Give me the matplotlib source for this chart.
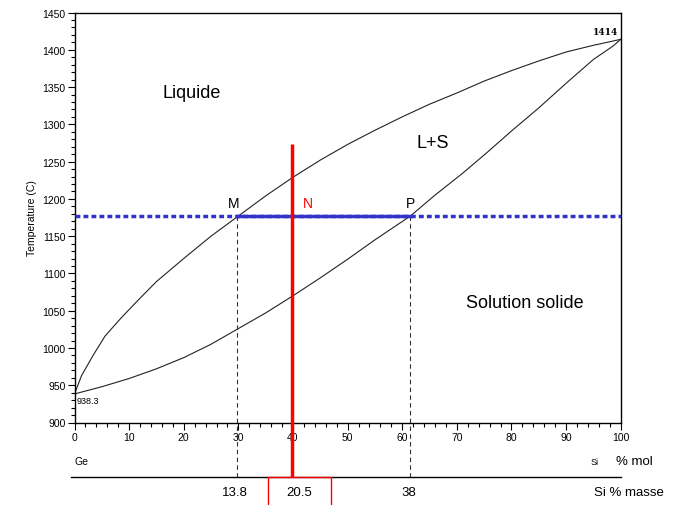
import numpy as np
import matplotlib
matplotlib.use("Agg")
import matplotlib.pyplot as plt
from matplotlib.ticker import MultipleLocator

plt.rcParams["font.family"] = ["Liberation Sans", "DejaVu Sans"]

# Ge-Si phase diagram
liq_x = [0, 1.3, 3.4, 5.6, 8.5, 11.5, 15, 20, 25, 30, 35, 40, 45, 50, 55, 60,
         65, 70, 75, 80, 85, 90, 95, 100]
liq_t = [938.3, 963, 990, 1016, 1040, 1063, 1089, 1120, 1150, 1177, 1204, 1229, 1252, 1273, 1292, 1310,
         1327, 1342, 1358, 1372, 1385, 1397, 1406, 1414]
sol_x = [0, 5, 10, 15, 20, 25, 30, 35, 40, 45, 50, 55, 61.5, 66, 71, 75.5,
         80, 85, 90, 95, 98.6, 100]
sol_t = [938.3, 948, 959, 972, 987, 1005, 1026, 1047, 1070, 1094, 1119, 1145, 1177, 1205, 1234, 1262,
         1291, 1322, 1355, 1387, 1405, 1414]

t_tie = 1177          # tie-line temperature
x_m = 29.7            # liquid composition (M)
x_n = 39.8            # alloy composition (N)
x_p = 61.5            # solid composition (P)
t_n_top = 1274
mass_pos = [29.4, 41.1, 61.2]
mass_labels = ["13.8", "20.5", "38"]

fig = plt.figure(figsize=(6.95, 5.06), dpi=100)
ax = fig.add_axes([74.5 / 695, 1 - 423.5 / 506, 546.2 / 695, 410 / 506])

ax.plot(liq_x, liq_t, color="#222222", lw=0.8)
ax.plot(sol_x, sol_t, color="#222222", lw=0.8)

ax.set_xlim(0, 100)
ax.set_ylim(900, 1450)
ax.xaxis.set_major_locator(MultipleLocator(10))
ax.xaxis.set_minor_locator(MultipleLocator(2))
ax.yaxis.set_major_locator(MultipleLocator(50))
ax.yaxis.set_minor_locator(MultipleLocator(10))
ax.tick_params(which="major", length=5, width=0.8, labelsize=7.5, pad=1.5)
ax.tick_params(which="minor", length=3, width=0.8)
for s in ax.spines.values():
    s.set_linewidth(1.0)
ax.set_ylabel("Temperature (C)", fontsize=7.5, labelpad=4)

# tie line M-N-P
ax.plot([0, 100], [t_tie, t_tie], color="#3333cc", lw=2.5, ls=(0, (1.4, 0.9)), clip_on=False, zorder=3)
ax.plot([x_m, x_p], [t_tie, t_tie], color="#3333cc", lw=2.5, zorder=4)

# dashed drops to the mass scale
t_mass_axis = 827
for xv in (x_m, x_p):
    ax.plot([xv, xv], [t_tie, t_mass_axis], color="#333333", lw=0.8, ls=(0, (4, 3)), clip_on=False, zorder=2)

# alloy composition line
ax.plot([x_n, x_n], [t_n_top, t_mass_axis], color="red", lw=2.5, clip_on=False, zorder=5, solid_capstyle="butt")

# second scale (mass %)
ax.plot([-0.6, 100], [t_mass_axis, t_mass_axis], color="black", lw=1.0, clip_on=False)
ax.plot([35.4, 35.4, 46.9, 46.9], [780, t_mass_axis, t_mass_axis, 780], color="red", lw=1.0, clip_on=False, zorder=6)
for xv, lab in zip(mass_pos, mass_labels):
    ax.text(xv, 807, lab, ha="center", va="center", fontsize=9.5)
ax.text(95.1, 807, "Si % masse", ha="left", va="center", fontsize=9.5)

ax.text(0, 848, "Ge", ha="left", va="center", fontsize=7.5)
ax.text(94.5, 848, "Si", ha="left", va="center", fontsize=6.5)
ax.text(99.2, 848, "% mol", ha="left", va="center", fontsize=9.5)

# region labels
ax.text(21.5, 1343, "Liquide", ha="center", va="center", fontsize=13)
ax.text(65.6, 1275, "L+S", ha="center", va="center", fontsize=13)
ax.text(82.5, 1061, "Solution solide", ha="center", va="center", fontsize=13)

ax.text(x_m - 0.5, 1194, "M", ha="center", va="center", fontsize=10)
ax.text(42.7, 1194, "N", ha="center", va="center", fontsize=10, color="red")
ax.text(x_p, 1194, "P", ha="center", va="center", fontsize=10)

ax.text(0.4, 929, "938.3", ha="left", va="center", fontsize=6.5)
ax.text(99.6, 1425, "1414", ha="right", va="center", fontsize=6.5, family="DejaVu Serif", fontweight="bold")

fig.savefig("out.png", dpi=100)
